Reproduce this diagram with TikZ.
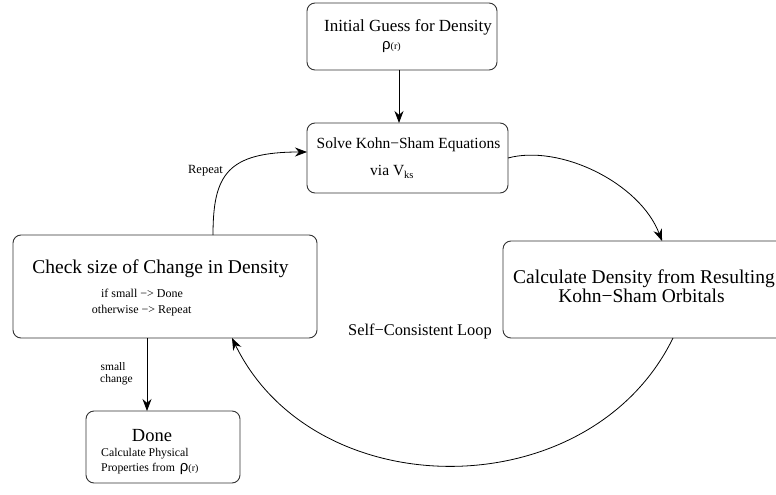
\documentclass[tikz,border=0pt]{standalone}
\usepackage{fontspec}
\setmainfont{Liberation Serif}
\newfontfamily\greekfont{Liberation Sans}
\usetikzlibrary{arrows.meta}
\newcommand{\fsz}[1]{\fontsize{#1}{#1}\selectfont}
\newcommand{\rhor}[2]{{\greekfont\fsz{#1}ρ}{\fsz{#2}(r)}}
\tikzset{
  box/.style={draw=black!80, line width=0.9pt, rounded corners=8pt, inner sep=0pt, outer sep=0pt},
  lbl/.style={inner sep=0pt, anchor=base},
  flow/.style={draw=black, line width=0.8pt, -{Stealth[length=12pt,width=9pt]}}
}
\begin{document}
\begin{tikzpicture}[x=1pt,y=-1pt]
\useasboundingbox (0,0) rectangle (776,495);
\clip (0,0) rectangle (776,495);

% boxes
\node[box, minimum width=190pt, minimum height=67pt]  (init)  at (402,36.5)   {};
\node[box, minimum width=201pt, minimum height=70pt]  (solve) at (407.5,158)  {};
\node[box, minimum width=304pt, minimum height=103pt] (check) at (165,286.5)  {};
\node[box, minimum width=287pt, minimum height=97pt]  (calc)  at (646.5,289.5){};
\node[box, minimum width=154pt, minimum height=72pt]  (done)  at (163,447)    {};

% box texts
\node[lbl, font=\fsz{17}] (initA) at (408,32) {Initial Guess for Density};
\node[lbl, anchor=base west] (initB) at (382,49) {\rhor{15}{10}};

\node[lbl, font=\fsz{15.5}] (solveA) at (408.5,148) {Solve Kohn−Sham Equations};
\node[lbl, anchor=base west, font=\fsz{15.5}] (solveB) at (370,175) {via V{\fsz{10.5}\raisebox{-3pt}{ks}}};

\node[lbl, font=\fsz{19.5}] (checkA) at (160.5,273) {Check size of Change in Density};
\node[lbl, font=\fsz{12}] (checkB) at (142,297.7) {if small −> Done};
\node[lbl, font=\fsz{12}] (checkC) at (141.7,313.3) {otherwise −> Repeat};

\node[lbl, font=\fsz{19.5}] (calcA) at (644,283.3) {Calculate Density from Resulting};
\node[lbl, font=\fsz{19.5}] (calcB) at (641.5,302.7) {Kohn−Sham Orbitals};

\node[lbl, font=\fsz{18.5}] (doneA) at (152,441.7) {Done};
\node[lbl, anchor=base west, font=\fsz{11.8}] (doneB) at (101,456.7) {Calculate Physical};
\node[lbl, anchor=base west, font=\fsz{11.8}] (doneC) at (101,471.7) {Properties from\hspace{5pt}\rhor{15}{10}};

% connector labels
\node[lbl, anchor=base west, font=\fsz{11.5}] (smallA) at (100.5,370) {small};
\node[lbl, anchor=base west, font=\fsz{11.5}] (smallB) at (100,382) {change};
\node[lbl, font=\fsz{12.5}] (rep) at (205.5,173.3) {Repeat};
\node[lbl, font=\fsz{16.4}] (loop) at (420,335) {Self−Consistent Loop};

% connectors
\draw[flow] ([xshift=-3pt]init.south) -- ([xshift=-3pt]init.south |- solve.north);
\draw[flow] (solve.east) .. controls +(52,-14) and +(-22,-58) .. ([xshift=15.5pt]calc.north);
\draw[flow] ([xshift=26.5pt]calc.south) .. controls +(-83,170) and +(83,170) .. ([xshift=67pt]check.south);
\draw[flow] ([xshift=48pt]check.north) .. controls +(0,-60) and +(-80,0) .. ([yshift=6pt]solve.west);
\draw[flow] ([xshift=-18pt]check.south) -- ([xshift=-18pt]check.south |- done.north);
\end{tikzpicture}
\end{document}
